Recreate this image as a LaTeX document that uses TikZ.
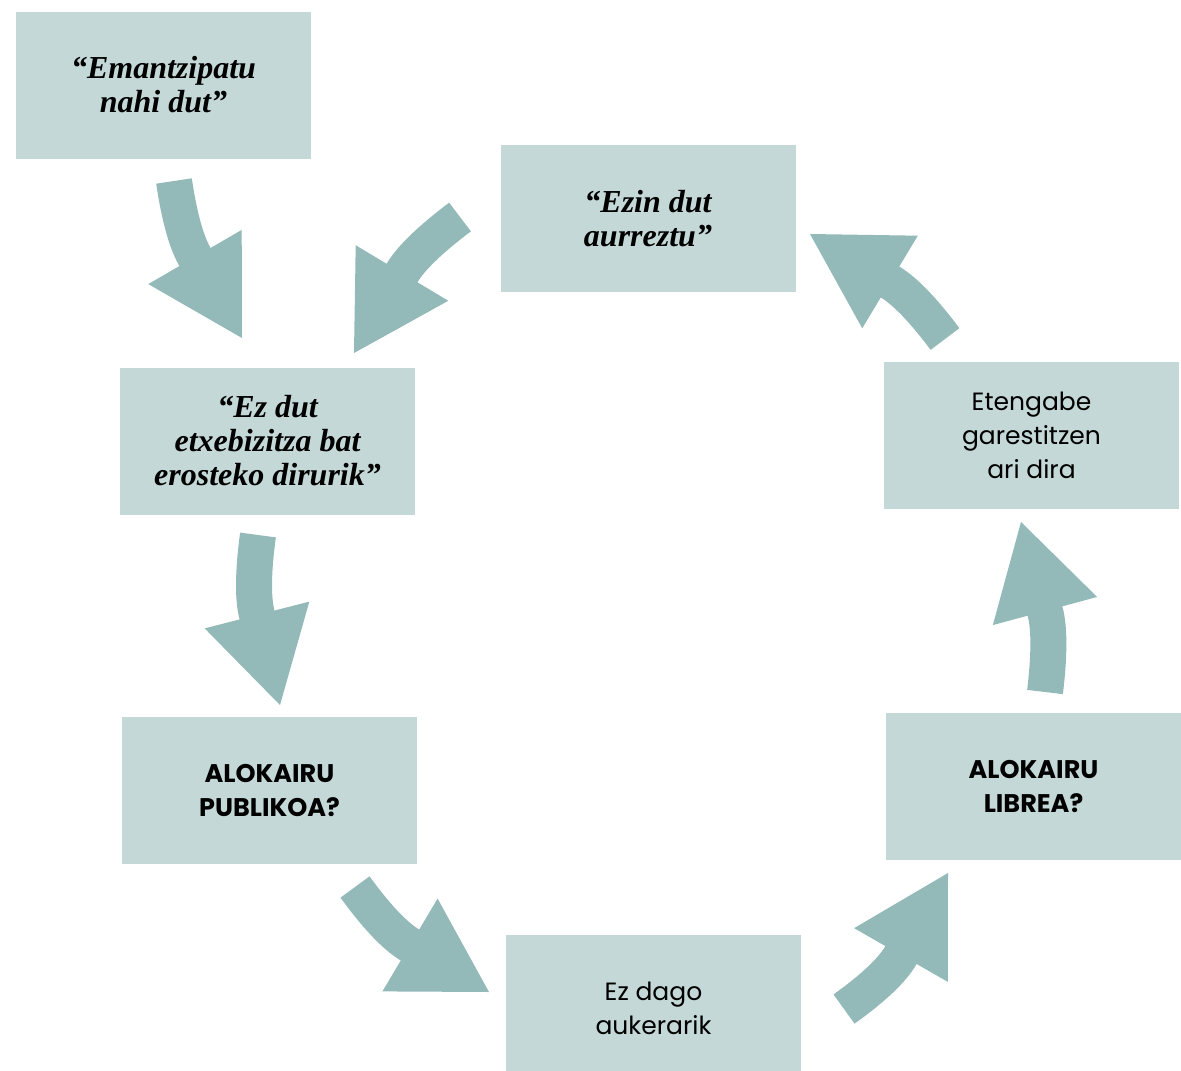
\documentclass[tikz,border=0pt]{standalone}
\usepackage{fontspec}
\setmainfont{Liberation Serif}
\newfontfamily\boxsans{Poppins}
\usetikzlibrary{positioning, calc}
\definecolor{boxfill}{HTML}{C4D8D7}
\definecolor{arrowfill}{HTML}{93B9B8}
\tikzset{
    box/.style={fill=boxfill, minimum width=295pt, minimum height=147pt,
        align=center, inner sep=0pt},
    quotebox/.style={box, font=\bfseries\itshape\fontsize{32}{34}\selectfont},
    plainbox/.style={box, font=\boxsans\fontsize{25}{34}\selectfont},
    askbox/.style={box, font=\boxsans\bfseries\fontsize{25.5}{34}\selectfont},
}
% big curved arrow: start, base of head, tip
\newcommand{\cyclearrow}[3]{%
    \coordinate (bend) at ($(#2)!-26pt!(#3)$);
    \draw[arrowfill, line width=36pt]
        (#1) .. controls ($(#1)!0.667!(bend)$) and ($(#2)!0.667!(bend)$) .. (#2)
        -- ($(#2)!8pt!(#3)$);
    \fill[arrowfill] (#3) -- ($(#2)!54pt!90:(#3)$)
        -- ($(#2)!54pt!-90:(#3)$) -- cycle;
}

\begin{document}
\begin{tikzpicture}[x=1pt, y=-1pt]
    \useasboundingbox (0,0) rectangle (1181,1071);

        \node[quotebox] (emantzipatu) at (163.5,85) {“Emantzipatu\\nahi dut”};
        \node[quotebox] (aurreztu) at (648,218.5) {“Ezin dut\\aurreztu”};
        \node[quotebox] (dirurik) at (267.5,441) {“Ez dut\\etxebizitza bat\\erosteko dirurik”};
        \node[plainbox] (garestitzen) at (1031.5,435.5) {Etengabe\\garestitzen\\ari dira};
        \node[askbox] (publikoa) at (269.5,790.5) {ALOKAIRU\\PUBLIKOA?};
        \node[askbox] (librea) at (1033.5,786.5) {ALOKAIRU\\LIBREA?};
        \node[plainbox, minimum height=146pt] (aukerarik) at (653.5,1008) {Ez dago\\aukerarik};

    % arrow ends
        \coordinate (s1) at (174,181);  \coordinate (b1) at (195,257);  \coordinate (t1) at (242,338);
        \coordinate (s2) at (460,217);  \coordinate (b2) at (402,273);  \coordinate (t2) at (354,353);
        \coordinate (s3) at (258,535);  \coordinate (b3) at (257,615);  \coordinate (t3) at (280,705);
        \coordinate (s4) at (355,887);  \coordinate (b4) at (410,945);  \coordinate (t4) at (489,992);
        \coordinate (s5) at (844,1009); \coordinate (b5) at (901,955);  \coordinate (t5) at (948,873);
        \coordinate (s6) at (1045,692); \coordinate (b6) at (1045,611); \coordinate (t6) at (1021,522);
        \coordinate (s7) at (945,339);  \coordinate (b7) at (890,282);  \coordinate (t7) at (810,234);

        \cyclearrow{s1}{b1}{t1}
        \cyclearrow{s2}{b2}{t2}
        \cyclearrow{s3}{b3}{t3}
        \cyclearrow{s4}{b4}{t4}
        \cyclearrow{s5}{b5}{t5}
        \cyclearrow{s6}{b6}{t6}
        \cyclearrow{s7}{b7}{t7}
\end{tikzpicture}
\end{document}
